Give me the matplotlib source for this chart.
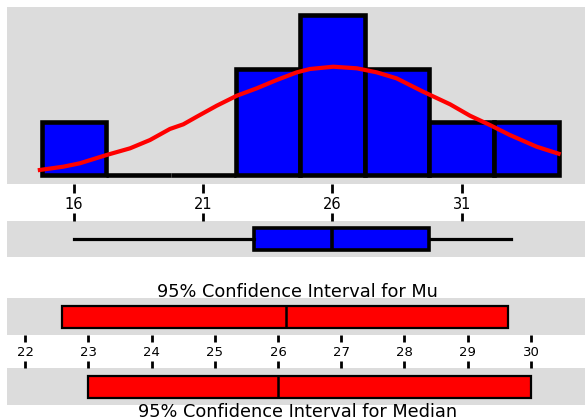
import matplotlib
matplotlib.use("Agg")
import matplotlib.pyplot as plt
import numpy as np

plt.rcParams['font.family'] = ['DejaVu Sans']

# histogram (bin edges and counts)
bin_edges = [14.75, 17.25, 19.75, 22.25, 24.75, 27.25, 29.75, 32.25, 34.75]
counts = [1, 0, 0, 2, 3, 2, 1, 1]
hist_ticks = [16, 21, 26, 31]

# fitted normal curve
curve_x = [14.68, 15.59, 16.23, 17.26, 18.17, 18.94, 19.71, 20.23, 20.75, 21.52,
           22.30, 23.07, 23.84, 24.62, 25.13, 26.03, 26.94, 27.71, 28.48, 29.51,
           30.55, 31.32, 32.09, 32.86, 33.90, 34.75]
curve_y = [0.089, 0.151, 0.215, 0.371, 0.497, 0.653, 0.861, 0.949, 1.092, 1.299,
           1.488, 1.627, 1.783, 1.928, 1.991, 2.034, 2.004, 1.928, 1.815, 1.563,
           1.326, 1.111, 0.936, 0.748, 0.527, 0.395]

# boxplot summary
box_min = 16.0
box_q1 = 22.95
box_med = 26.0
box_q3 = 29.75
box_max = 32.9

# confidence intervals
mu_lo, mu_mean, mu_hi = 22.59, 26.12, 29.64
med_lo, med_mid, med_hi = 23.0, 26.0, 30.0
ci_ticks = [22, 23, 24, 25, 26, 27, 28, 29, 30]

GRAY = '#dcdcdc'
W, H = 585, 419


def px_axes(x0, y0, x1, y1):
	# pixel box (top-left origin) -> figure axes
	return fig.add_axes([x0/W, 1 - y1/H, (x1 - x0)/W, (y1 - y0)/H])


def clean(ax):
	ax.set_facecolor(GRAY)
	for s in ax.spines.values():
		s.set_visible(False)
	ax.set_yticks([])


fig = plt.figure(figsize=(5.85, 4.19), dpi=100)

# --- histogram
ax1 = px_axes(7.3, 7.3, 585, 184.3)
clean(ax1)
ax1.bar(bin_edges[:-1], counts, width=np.diff(bin_edges), align='edge',
	color='#0000ff', edgecolor='black', linewidth=3.3, zorder=2)
ax1.plot(curve_x, curve_y, color='#ff0000', linewidth=3, zorder=3)
ax1.set_xlim(13.42, 35.77)
ax1.set_ylim(-0.181, 3.153)
ax1.set_xticks(hist_ticks)
ax1.set_xticklabels([str(t) for t in hist_ticks])
ax1.tick_params(axis='x', direction='out', length=6.5, width=2, pad=3, labelsize=10.5)

# --- boxplot
ax2 = px_axes(7.3, 221, 585, 257.3)
clean(ax2)
stats = [{'med': box_med, 'q1': box_q1, 'q3': box_q3,
	'whislo': box_min, 'whishi': box_max}]
ax2.bxp(stats, positions=[0.5], widths=0.59, orientation='horizontal',
	showcaps=False, showfliers=False, patch_artist=True,
	boxprops=dict(facecolor='#0000ff', edgecolor='black', linewidth=2.6),
	medianprops=dict(color='black', linewidth=2.6),
	whiskerprops=dict(color='black', linewidth=2.3))
ax2.set_xlim(13.42, 35.77)
ax2.set_ylim(0, 1)
ax2.set_yticks([])
ax2.set_xticks(hist_ticks)
ax2.xaxis.set_ticks_position('top')
ax2.tick_params(axis='x', direction='out', length=6, width=2, labeltop=False, labelbottom=False)

# --- CI for mu
ax3 = px_axes(7.3, 298.3, 585, 335)
clean(ax3)
ax3.barh(0.5, mu_hi - mu_lo, left=mu_lo, height=0.6, color='#ff0000',
	edgecolor='black', linewidth=1.6)
ax3.vlines(mu_mean, 0.2, 0.8, color='black', linewidth=1.8)
ax3.set_xlim(21.72, 30.854)
ax3.set_ylim(0, 1)
ax3.set_xticks(ci_ticks)
ax3.set_xticklabels([str(t) for t in ci_ticks])
ax3.tick_params(axis='x', direction='out', length=5, width=2, pad=3, labelsize=9.5)

# --- CI for median
ax4 = px_axes(7.3, 368.3, 585, 405)
clean(ax4)
ax4.barh(0.5, med_hi - med_lo, left=med_lo, height=0.6, color='#ff0000',
	edgecolor='black', linewidth=1.6)
ax4.vlines(med_mid, 0.2, 0.8, color='black', linewidth=1.8)
ax4.set_xlim(21.72, 30.854)
ax4.set_ylim(0, 1)
ax4.set_xticks(ci_ticks)
ax4.xaxis.set_ticks_position('top')
ax4.tick_params(axis='x', direction='out', length=5, width=2, labeltop=False, labelbottom=False)

fig.text(297.5/W, 1 - 296.7/H, '95% Confidence Interval for Mu',
	ha='center', va='baseline', fontsize=12.8)
fig.text(297.5/W, 1 - 416.5/H, '95% Confidence Interval for Median',
	ha='center', va='baseline', fontsize=12.8)

fig.savefig('out.png', dpi=100)
